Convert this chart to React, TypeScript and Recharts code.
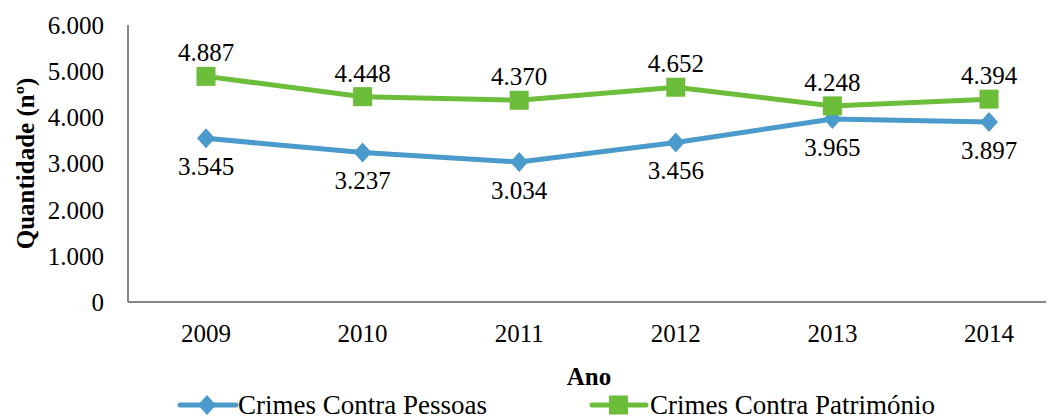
import React from 'react';
import { LineChart, Line, XAxis, YAxis, Label, LabelList } from 'recharts';

const years = ['2009', '2010', '2011', '2012', '2013', '2014'];
const pessoas = [3545, 3237, 3034, 3456, 3965, 3897];
const patrimonio = [4887, 4448, 4370, 4652, 4248, 4394];
const yTicks = [0, 1000, 2000, 3000, 4000, 5000, 6000];

const data = years.map((ano, i) => ({ ano, pessoas: pessoas[i], patrimonio: patrimonio[i] }));

const BLUE = '#4a9acb';
const GREEN = '#6cbe3a';
const AXIS = '#868686';
const FONT = 'Times New Roman, Liberation Serif, serif';

const fmt = (v: number) => (v === 0 ? '0' : (v / 1000).toFixed(3));

const Diamond = (props: any) => {
  const { cx, cy, index } = props;
  if (cx == null || cy == null) return null;
  return <path key={`d-${index}`} d={`M${cx},${cy - 10} L${cx + 9},${cy} L${cx},${cy + 10} L${cx - 9},${cy} Z`} fill={BLUE} />;
};

const Square = (props: any) => {
  const { cx, cy, index } = props;
  if (cx == null || cy == null) return null;
  return <rect key={`s-${index}`} x={cx - 9.5} y={cy - 9.5} width={19} height={19} fill={GREEN} />;
};

const tickStyle = { fill: '#000', fontSize: 25, fontFamily: FONT };

export default function App() {
  return (
    <div style={{ position: 'relative', width: 1046, height: 412, overflow: 'hidden', fontFamily: FONT }}>
      <LineChart width={1070} height={412} data={data} margin={{ top: 17, right: 11, bottom: 48, left: 0 }}>
        <XAxis
          dataKey="ano"
          height={70}
          padding={{ left: 78, right: 78 }}
          stroke={AXIS}
          strokeWidth={2}
          tickLine={false}
          tickSize={0}
          tickMargin={22}
          tick={tickStyle}
        >
          <Label
            content={({ viewBox }: any) => (
              <text x={581} y={viewBox.y + 83} textAnchor="middle" fontFamily={FONT} fontSize={25} fontWeight="bold" fill="#000">
                Ano
              </text>
            )}
          />
        </XAxis>
        <YAxis
          width={120}
          domain={[0, 6000]}
          ticks={yTicks}
          tickFormatter={fmt}
          stroke={AXIS}
          strokeWidth={2}
          tickLine={false}
          tickSize={0}
          tickMargin={24}
          tick={tickStyle}
        >
          <Label
            content={({ viewBox }: any) => {
              const x = viewBox.x + 17;
              const y = viewBox.y + viewBox.height / 2;
              return (
                <text
                  x={x}
                  y={y}
                  transform={`rotate(-90, ${x}, ${y})`}
                  textAnchor="middle"
                  dominantBaseline="central"
                  fontFamily={FONT}
                  fontSize={25}
                  fontWeight="bold"
                  fill="#000"
                >
                  Quantidade (nº)
                </text>
              );
            }}
          />
        </YAxis>
        <Line
          dataKey="pessoas"
          name="Crimes Contra Pessoas"
          stroke={BLUE}
          strokeWidth={5}
          dot={Diamond}
          activeDot={false}
          isAnimationActive={false}
        >
          <LabelList dataKey="pessoas" position="bottom" offset={19} formatter={(v: any) => fmt(Number(v))} fontFamily={FONT} fontSize={25} fill="#000" />
        </Line>
        <Line
          dataKey="patrimonio"
          name="Crimes Contra Património"
          stroke={GREEN}
          strokeWidth={5}
          dot={Square}
          activeDot={false}
          isAnimationActive={false}
        >
          <LabelList dataKey="patrimonio" position="top" offset={15} formatter={(v: any) => fmt(Number(v))} fontFamily={FONT} fontSize={25} fill="#000" />
        </Line>
      </LineChart>
      <svg width={1046} height={412} style={{ position: 'absolute', left: 0, top: 0, pointerEvents: 'none' }}>
        <g>
          <line x1={172} y1={397} x2={228} y2={397} stroke={BLUE} strokeWidth={5} strokeLinecap="round" />
          <path d="M199,387 L208,397 L199,407 L190,397 Z" fill={BLUE} />
          <text x={230} y={406} fontFamily={FONT} fontSize={27} fill="#000">Crimes Contra Pessoas</text>
        </g>
        <g>
          <line x1={584} y1={397} x2={638} y2={397} stroke={GREEN} strokeWidth={5} strokeLinecap="round" />
          <rect x={601} y={387.5} width={19} height={19} fill={GREEN} />
          <text x={642} y={406} fontFamily={FONT} fontSize={27} fill="#000">Crimes Contra Património</text>
        </g>
      </svg>
    </div>
  );
}
